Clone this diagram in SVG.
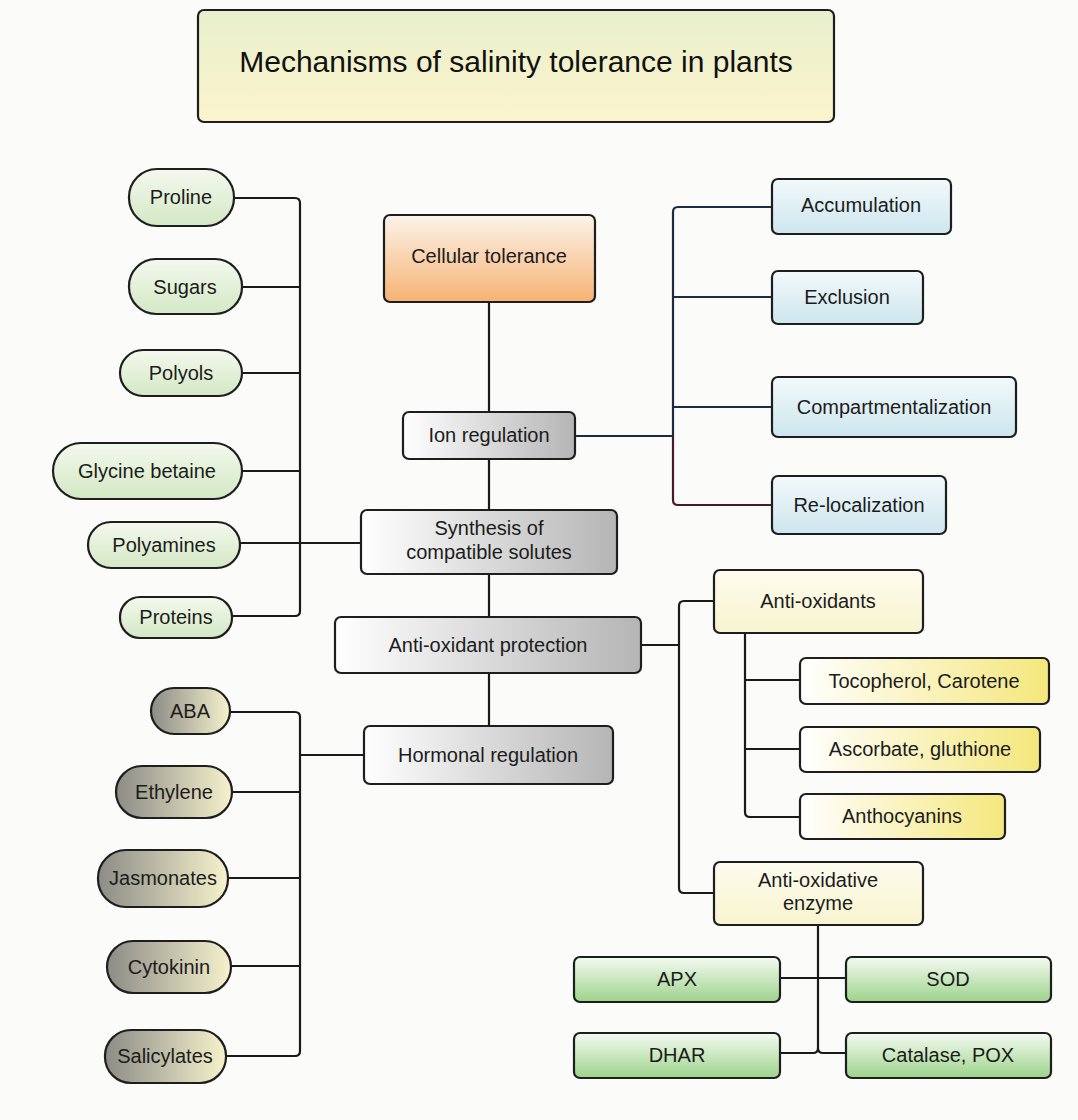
<svg xmlns="http://www.w3.org/2000/svg" width="1078" height="1120" viewBox="0 0 1078 1120">
<defs>
<linearGradient id="gTitle" x1="0" y1="0" x2="0" y2="1"><stop offset="0" stop-color="#e8f0cc"/><stop offset="1" stop-color="#fcf4cc"/></linearGradient>
<linearGradient id="gOrange" x1="0" y1="0" x2="0" y2="1"><stop offset="0" stop-color="#fcf3ea"/><stop offset="1" stop-color="#f6b273"/></linearGradient>
<linearGradient id="gGray" x1="0" y1="0" x2="1" y2="0"><stop offset="0" stop-color="#ffffff"/><stop offset="1" stop-color="#b5b5b5"/></linearGradient>
<linearGradient id="gPill" x1="0" y1="0" x2="0" y2="1"><stop offset="0" stop-color="#f4f9ee"/><stop offset="1" stop-color="#d3e8c4"/></linearGradient>
<linearGradient id="gBlue" x1="0" y1="0" x2="0" y2="1"><stop offset="0" stop-color="#f2f9fb"/><stop offset="1" stop-color="#cde6ee"/></linearGradient>
<linearGradient id="gLY" x1="0" y1="0" x2="0" y2="1"><stop offset="0" stop-color="#fdfcee"/><stop offset="1" stop-color="#f8f4cf"/></linearGradient>
<linearGradient id="gYel" x1="0" y1="0" x2="1" y2="0"><stop offset="0" stop-color="#ffffff"/><stop offset="1" stop-color="#f4e77c"/></linearGradient>
<linearGradient id="gGreen" x1="0" y1="0" x2="0" y2="1"><stop offset="0" stop-color="#f5fbf2"/><stop offset="1" stop-color="#9cd38b"/></linearGradient>
<linearGradient id="gHorm" x1="0" y1="0" x2="1" y2="0"><stop offset="0" stop-color="#8c8c86"/><stop offset="1" stop-color="#f6f2cc"/></linearGradient>
</defs>
<style>
.box{stroke:#1e1e1e;stroke-width:2.2}
.t{font-family:"Liberation Sans",Arial,sans-serif;font-size:20px;fill:#1c1c1c;text-anchor:middle}
.title{font-family:"Liberation Sans",Arial,sans-serif;font-size:30px;fill:#111;text-anchor:middle}
.c{fill:none;stroke:#1a1a1a;stroke-width:2.2}
.nv{fill:none;stroke:#1f2a48;stroke-width:2.2}
.mr{fill:none;stroke:#4a1a2c;stroke-width:2.2}
</style>
<rect x="0" y="0" width="1078" height="1120" fill="#fbfbf9"/>

<g id="connectors">
<path class="c" d="M489,302 V412 M489,459 V510 M489,574 V617 M489,673 V726"/>
<path class="c" d="M234,198 H295 Q300,198 300,203 V611 Q300,616 295,616 H232"/>
<path class="c" d="M242,287 H300 M242,373 H300 M242,471 H300 M240,543 H361"/>
<path class="nv" d="M772,207 H678 Q673,207 673,212 V436"/>
<path class="mr" d="M673,436 V500 Q673,505 678,505 H772"/>
<path class="nv" d="M673,297 H772 M673,407 H772 M575,436 H673"/>
<path class="c" d="M641,645 H679"/>
<path class="c" d="M714,601 H684 Q679,601 679,606 V888 Q679,893 684,893 H714"/>
<path class="c" d="M745,633 V812 Q745,817 750,817 H800 M745,680 H800 M745,749 H800"/>
<path class="c" d="M818,925 V1048 M780,978 H846 M780,1053 H813 Q818,1053 818,1048 M846,1053 H823 Q818,1053 818,1048"/>
<path class="c" d="M230,712 H295 Q300,712 300,717 V1051 Q300,1056 295,1056 H226"/>
<path class="c" d="M232,792 H300 M228,878 H300 M231,966 H300 M300,755 H364"/>
</g>

<g id="title"><rect class="box" x="198" y="10" width="636" height="112" rx="6" fill="url(#gTitle)"/><text class="title" x="516" y="72">Mechanisms of salinity tolerance in plants</text></g>

<g id="cellular"><rect class="box" x="384" y="215" width="211" height="87" rx="6" fill="url(#gOrange)"/><text class="t" x="489" y="263">Cellular tolerance</text></g>
<g id="ion"><rect class="box" x="403" y="412" width="172" height="47" rx="6" fill="url(#gGray)"/><text class="t" x="489" y="442">Ion regulation</text></g>
<g id="synthesis"><rect class="box" x="361" y="510" width="256" height="64" rx="6" fill="url(#gGray)"/><text class="t" x="489" y="535">Synthesis of</text><text class="t" x="489" y="559">compatible solutes</text></g>
<g id="antioxprot"><rect class="box" x="335" y="617" width="306" height="56" rx="6" fill="url(#gGray)"/><text class="t" x="488" y="652">Anti-oxidant protection</text></g>
<g id="hormonal"><rect class="box" x="364" y="726" width="249" height="58" rx="6" fill="url(#gGray)"/><text class="t" x="488" y="762">Hormonal regulation</text></g>

<g id="accumulation"><rect class="box" x="772" y="179" width="179" height="55" rx="6" fill="url(#gBlue)"/><text class="t" x="861" y="212">Accumulation</text></g>
<g id="exclusion"><rect class="box" x="772" y="271" width="151" height="53" rx="6" fill="url(#gBlue)"/><text class="t" x="847" y="304">Exclusion</text></g>
<g id="compartment"><rect class="box" x="772" y="377" width="244" height="60" rx="6" fill="url(#gBlue)"/><text class="t" x="894" y="414">Compartmentalization</text></g>
<g id="relocal"><rect class="box" x="772" y="476" width="174" height="58" rx="6" fill="url(#gBlue)"/><text class="t" x="859" y="512">Re-localization</text></g>

<g id="antioxidants"><rect class="box" x="714" y="570" width="209" height="63" rx="6" fill="url(#gLY)"/><text class="t" x="818" y="608">Anti-oxidants</text></g>
<g id="tocopherol"><rect class="box" x="800" y="658" width="249" height="46" rx="6" fill="url(#gYel)"/><text class="t" x="924" y="688">Tocopherol, Carotene</text></g>
<g id="ascorbate"><rect class="box" x="800" y="727" width="240" height="45" rx="6" fill="url(#gYel)"/><text class="t" x="920" y="756">Ascorbate, gluthione</text></g>
<g id="anthocyanins"><rect class="box" x="800" y="794" width="205" height="45" rx="6" fill="url(#gYel)"/><text class="t" x="902" y="823">Anthocyanins</text></g>
<g id="enzyme"><rect class="box" x="714" y="862" width="209" height="63" rx="6" fill="url(#gLY)"/><text class="t" x="818" y="887">Anti-oxidative</text><text class="t" x="818" y="910">enzyme</text></g>

<g id="apx"><rect class="box" x="574" y="957" width="206" height="45" rx="6" fill="url(#gGreen)"/><text class="t" x="677" y="986">APX</text></g>
<g id="sod"><rect class="box" x="846" y="957" width="205" height="45" rx="6" fill="url(#gGreen)"/><text class="t" x="948" y="986">SOD</text></g>
<g id="dhar"><rect class="box" x="574" y="1033" width="206" height="45" rx="6" fill="url(#gGreen)"/><text class="t" x="677" y="1062">DHAR</text></g>
<g id="catalase"><rect class="box" x="846" y="1033" width="205" height="45" rx="6" fill="url(#gGreen)"/><text class="t" x="948" y="1062">Catalase, POX</text></g>

<g id="proline"><rect class="box" x="129" y="169" width="105" height="57" rx="28" fill="url(#gPill)"/><text class="t" x="181" y="204">Proline</text></g>
<g id="sugars"><rect class="box" x="129" y="259" width="113" height="55" rx="27" fill="url(#gPill)"/><text class="t" x="185" y="294">Sugars</text></g>
<g id="polyols"><rect class="box" x="120" y="350" width="122" height="46" rx="23" fill="url(#gPill)"/><text class="t" x="181" y="380">Polyols</text></g>
<g id="glycine"><rect class="box" x="53" y="443" width="189" height="56" rx="28" fill="url(#gPill)"/><text class="t" x="147" y="478">Glycine betaine</text></g>
<g id="polyamines"><rect class="box" x="88" y="522" width="152" height="46" rx="23" fill="url(#gPill)"/><text class="t" x="164" y="552">Polyamines</text></g>
<g id="proteins"><rect class="box" x="120" y="597" width="112" height="41" rx="20" fill="url(#gPill)"/><text class="t" x="176" y="624">Proteins</text></g>

<g id="aba"><rect class="box" x="151" y="688" width="79" height="46" rx="23" fill="url(#gHorm)"/><text class="t" x="190" y="718">ABA</text></g>
<g id="ethylene"><rect class="box" x="116" y="766" width="116" height="52" rx="26" fill="url(#gHorm)"/><text class="t" x="174" y="799">Ethylene</text></g>
<g id="jasmonates"><rect class="box" x="98" y="850" width="130" height="57" rx="28" fill="url(#gHorm)"/><text class="t" x="163" y="885">Jasmonates</text></g>
<g id="cytokinin"><rect class="box" x="107" y="941" width="124" height="52" rx="26" fill="url(#gHorm)"/><text class="t" x="169" y="974">Cytokinin</text></g>
<g id="salicylates"><rect class="box" x="105" y="1030" width="121" height="53" rx="26" fill="url(#gHorm)"/><text class="t" x="165" y="1063">Salicylates</text></g>
</svg>
